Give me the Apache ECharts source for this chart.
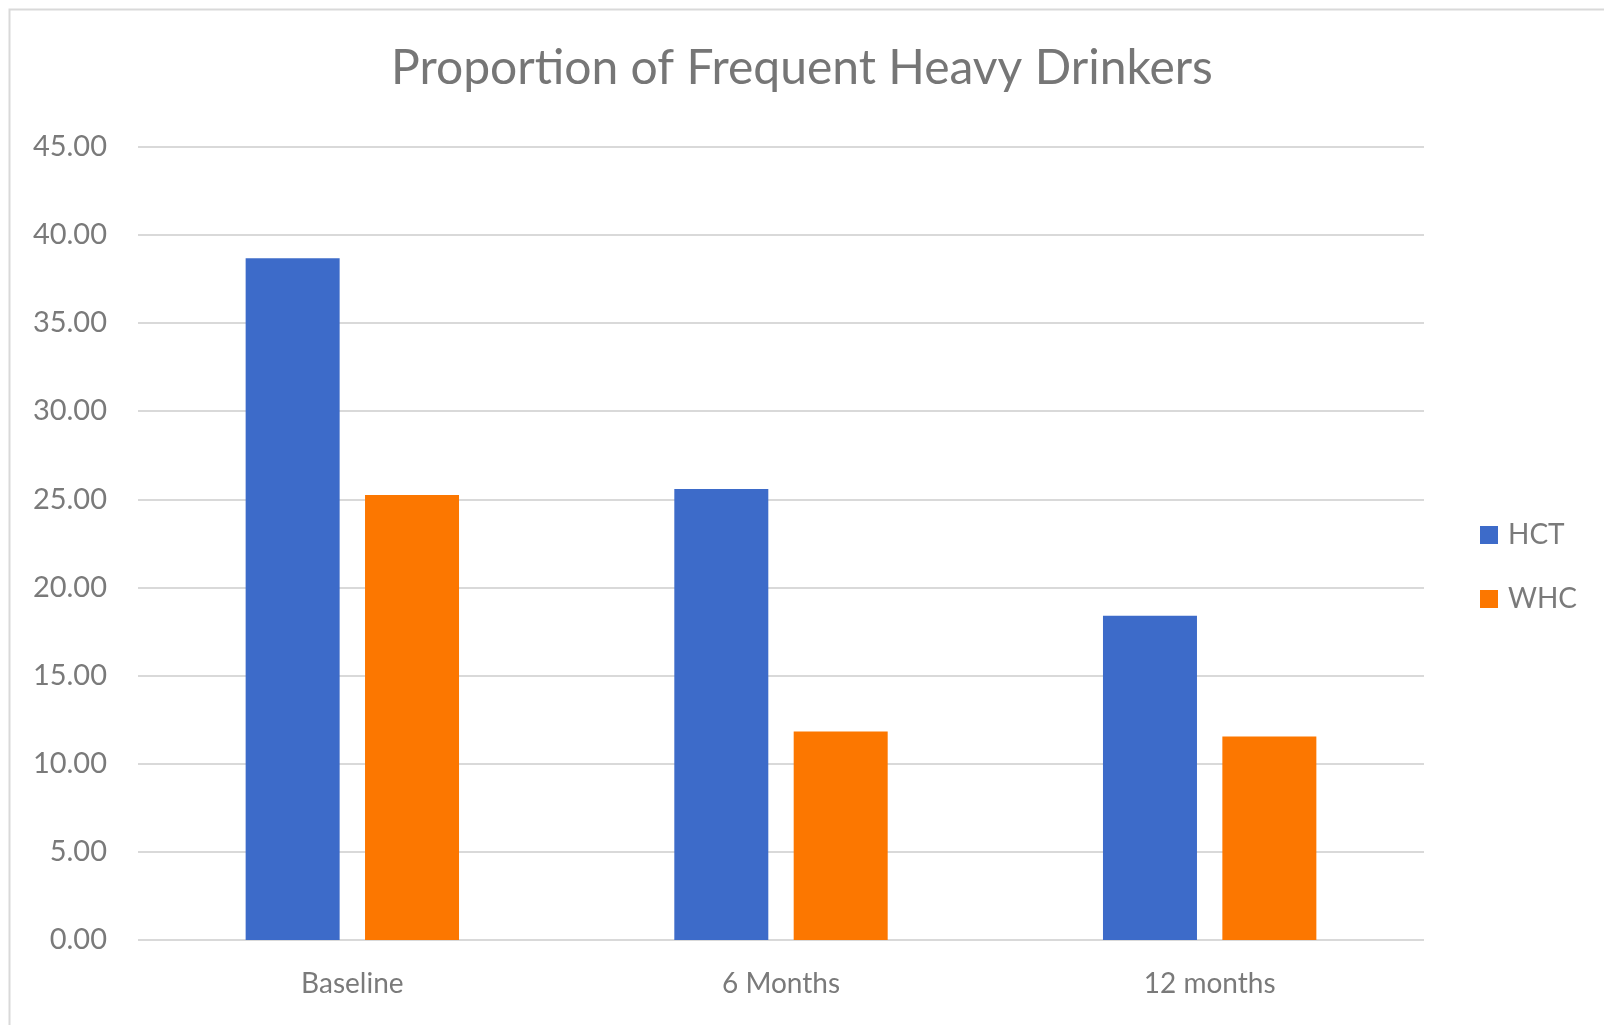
<!DOCTYPE html>
<html>
<head>
<meta charset="utf-8">
<script src="https://cdn.jsdelivr.net/npm/echarts@6/dist/echarts.min.js"></script>
<style>
html,body{margin:0;padding:0;background:#fff;}
#c{width:1604px;height:1025px;}
</style>
</head>
<body>
<div id="c"></div>
<script>
const titleText = 'Proportion of Frequent Heavy Drinkers';
const categories = ['Baseline', '6 Months', '12 months'];
const seriesNames = ['HCT', 'WHC'];
const hctValues = [38.67, 25.58, 18.39];
const whcValues = [25.24, 11.83, 11.54];
const yMin = 0, yMax = 45, yStep = 5;

const chart = echarts.init(document.getElementById('c'), null, {renderer: 'canvas'});
const font = 'Lato, "Open Sans", sans-serif';
chart.setOption({
  animation: false,
  backgroundColor: '#ffffff',
  graphic: [
    {type: 'rect', shape: {x: 9.5, y: 9.5, width: 1620, height: 1040}, style: {fill: 'none', stroke: '#d9d9d9', lineWidth: 2}, silent: true}
  ],
  title: {
    text: titleText,
    left: 'center',
    top: 40,
    textStyle: {fontFamily: font, fontSize: 48, fontWeight: 'normal', color: '#767676'}
  },
  legend: {
    orient: 'vertical',
    left: 1475,
    top: 515,
    itemWidth: 18,
    itemHeight: 18,
    itemGap: 34,
    icon: 'rect',
    data: seriesNames,
    textStyle: {fontFamily: font, fontSize: 28, color: '#7a7a7a', lineHeight: 30, padding: [0, 0, 0, 5]}
  },
  grid: {left: 138, right: 180, top: 146.7, bottom: 85, containLabel: false},
  xAxis: {
    type: 'category',
    data: categories,
    axisLine: {show: false},
    axisTick: {show: false},
    axisLabel: {fontFamily: font, fontSize: 28, color: '#7a7a7a', margin: 30}
  },
  yAxis: {
    type: 'value',
    min: yMin, max: yMax, interval: yStep,
    axisLine: {show: false},
    axisTick: {show: false},
    splitLine: {lineStyle: {color: '#d9d9d9', width: 2}},
    axisLabel: {fontFamily: font, fontSize: 29, color: '#7a7a7a', margin: 31,
      formatter: v => v.toFixed(2)}
  },
  series: [
    {name: seriesNames[0], type: 'bar', data: hctValues, barWidth: 94, barGap: '27%',
      itemStyle: {color: '#3d6bc9'}},
    {name: seriesNames[1], type: 'bar', data: whcValues, barWidth: 94, barGap: '27%',
      itemStyle: {color: '#fc7700'}}
  ]
});
</script>
</body>
</html>
